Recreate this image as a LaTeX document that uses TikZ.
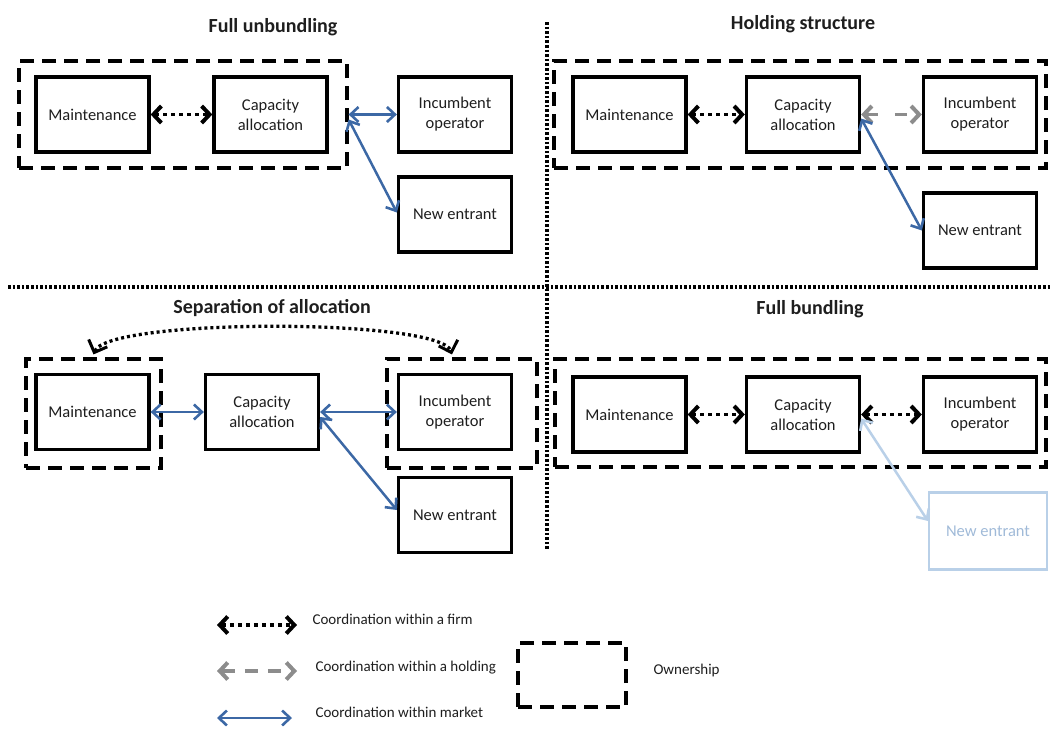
\documentclass[tikz,border=0pt]{standalone}
\usepackage{fontspec}
\setmainfont{Carlito}
\usetikzlibrary{arrows.meta}
\definecolor{mktblue}{RGB}{60,104,165}
\definecolor{holdgrey}{RGB}{140,140,140}
\definecolor{paleblue}{RGB}{185,208,232}
\definecolor{paletext}{RGB}{160,186,216}
\definecolor{inktext}{RGB}{30,30,30}
\begin{document}
\begin{tikzpicture}[x=1pt,y=-1pt,
  unit/.style={draw, line width=3.3pt, minimum width=113pt, minimum height=75pt,
    inner sep=0pt, align=center, font=\fontsize{16.5}{20}\selectfont, text=inktext},
  ghost/.style={unit, draw=paleblue, line width=2.2pt, text=paletext,
    minimum width=118pt, minimum height=77pt},
  owner/.style={draw, line width=3.2pt, dash pattern=on 14pt off 8pt, inner sep=0pt},
  paneltitle/.style={font=\fontsize{20}{24}\selectfont\bfseries, text=inktext, anchor=base},
  legendtext/.style={font=\fontsize{15}{18}\selectfont, text=inktext, anchor=base west},
  firm/.style={line width=3.8pt, dash pattern=on 4pt off 4pt, {Straight Barb[length=8pt,width=17pt,line width=4pt]}-{Straight Barb[length=8pt,width=17pt,line width=4pt]}},
  holding/.style={draw=holdgrey, line width=3.8pt, dash pattern=on 13pt off 10pt, {Straight Barb[length=8pt,width=17pt,line width=4pt]}-{Straight Barb[length=8pt,width=17pt,line width=4pt]}},
  market/.style={draw=mktblue, line width=2.5pt, {Straight Barb[length=8pt,width=15pt,line width=2.6pt]}-{Straight Barb[length=8pt,width=15pt,line width=2.6pt]}},
  palemarket/.style={market, draw=paleblue},
  arc/.style={line width=3.3pt, dash pattern=on 3pt off 3pt, {Straight Barb[length=10pt,width=20pt,line width=3pt]}-{Straight Barb[length=10pt,width=20pt,line width=3pt]}},
  divider/.style={line width=3.2pt, dash pattern=on 2.6pt off 2pt}
]
\useasboundingbox (0,0) rectangle (1051,731);

% dividers between the four panels
\draw[divider] (8,287) -- (1051,287);
\draw[divider] (547,22) -- (547,550);

% ---------- Full unbundling ----------
\node[paneltitle] (t1) at (273,32) {Full unbundling};
\node[owner, minimum width=328pt, minimum height=107pt] (aO) at (183,114.5) {};
\node[unit] (aM) at (92.5,114.5) {Maintenance};
\node[unit] (aC) at (270.5,114.5) {Capacity\\allocation};
\node[unit] (aI) at (455,114.5) {Incumbent\\operator};
\node[unit] (aN) at (455,214.5) {New entrant};
\draw[firm] (aM) -- (aC);
\draw[market] (aO.east) -- (aI.west);
\draw[market] ([yshift=-5pt]aO.east) -- ([yshift=2pt]aN.west);

% ---------- Holding structure ----------
\node[paneltitle] (t2) at (803,29) {Holding structure};
\node[owner, minimum width=492pt, minimum height=107pt] (bO) at (800,114.5) {};
\node[unit] (bM) at (629.5,114.5) {Maintenance};
\node[unit] (bC) at (803,114.5) {Capacity\\allocation};
\node[unit] (bI) at (980,114.5) {Incumbent\\operator};
\node[unit] (bN) at (980,230.5) {New entrant};
\draw[firm] (bM) -- (bC);
\draw[holding, dash pattern=on 12pt off 17pt] (bC) -- (bI);
\draw[market] ([yshift=-4pt]bC.east) -- (bN.west);

% ---------- Separation of allocation ----------
\node[paneltitle] (t3) at (272,313) {Separation of allocation};
\node[owner, minimum width=135pt, minimum height=109pt] (cOM) at (93.5,413.5) {};
\node[owner, minimum width=150pt, minimum height=109pt] (cOI) at (462,413.5) {};
\node[unit] (cM) at (92.5,412) {Maintenance};
\node[unit] (cC) at (262,412) {Capacity\\allocation};
\node[unit] (cI) at (455,412) {Incumbent\\operator};
\node[unit] (cN) at (455,515) {New entrant};
\draw[market] (cM) -- (cC);
\draw[market] (cC) -- (cI);
\draw[market] ([yshift=-5pt]cC.east) -- ([yshift=5pt]cN.west);
\draw[arc] ([yshift=3pt]cOM.north) .. controls (108,318) and (440,318) .. ([xshift=-10pt,yshift=3pt]cOI.north);

% ---------- Full bundling ----------
\node[paneltitle] (t4) at (810,314) {Full bundling};
\node[owner, minimum width=491pt, minimum height=108pt] (dO) at (800.5,413) {};
\node[unit] (dM) at (629.5,414.5) {Maintenance};
\node[unit] (dC) at (803,414.5) {Capacity\\allocation};
\node[unit] (dI) at (980,414.5) {Incumbent\\operator};
\node[ghost] (dN) at (988,531) {New entrant};
\draw[firm] (dM) -- (dC);
\draw[firm] (dC) -- (dI);
\draw[palemarket] ([yshift=-4pt]dC.east) -- ([yshift=10pt]dN.west);

% ---------- Legend ----------
\coordinate (f1) at (217,625);
\coordinate (f2) at (297,625);
\coordinate (h1) at (217,671);
\coordinate (h2) at (297,671);
\coordinate (m1) at (217,718);
\coordinate (m2) at (292,718);
\draw[firm] (f1) -- (f2);
\draw[holding] (h1) -- (h2);
\draw[market] (m1) -- (m2);
\node[legendtext] (lf) at (309,624) {Coordination within a firm};
\node[legendtext] (lh) at (312,671) {Coordination within a holding};
\node[legendtext] (lm) at (312,717) {Coordination within market};
\node[owner, minimum width=108pt, minimum height=64pt] (lo) at (572,675) {};
\node[legendtext] (lot) at (650,674) {Ownership};
\end{tikzpicture}
\end{document}
